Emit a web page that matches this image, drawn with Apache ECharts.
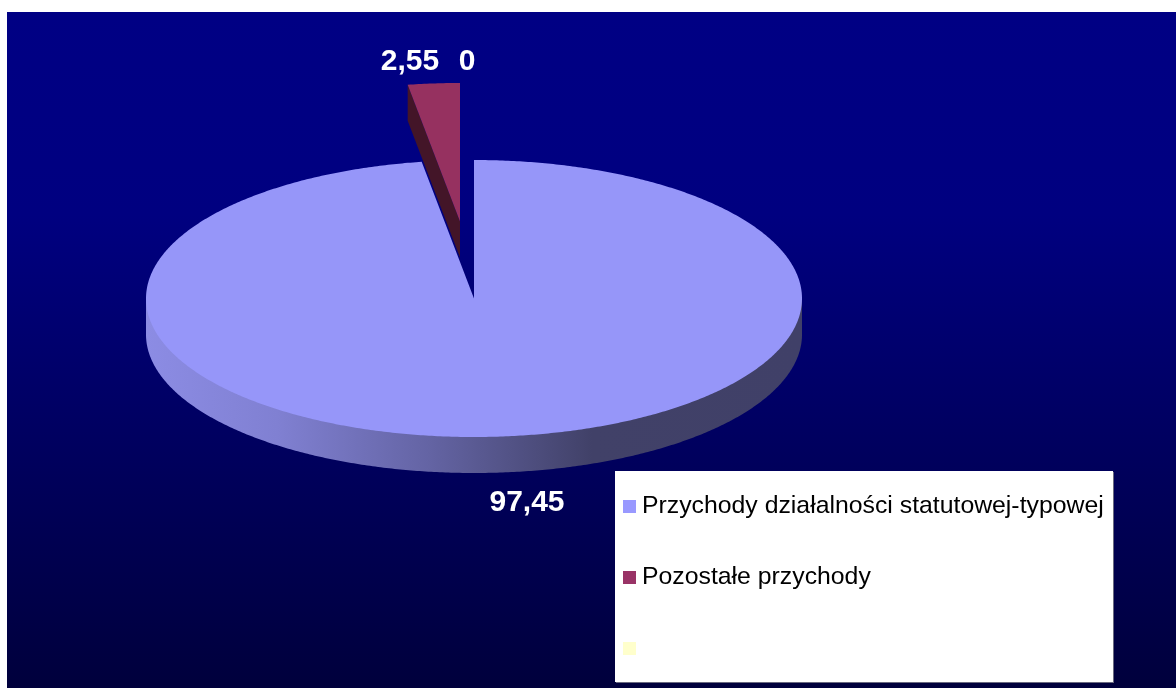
<!DOCTYPE html>
<html><head><meta charset="utf-8">
<style>html,body{margin:0;padding:0;background:#fff}#c{width:1176px;height:688px}</style>
<script src="https://cdn.jsdelivr.net/npm/echarts@6/dist/echarts.min.js"></script>
</head><body><div id="c"></div>
<script>
const categories = ['Przychody działalności statutowej-typowej', 'Pozostałe przychody', '\u00a0'];
const values = [97.45, 2.55, 0];
const valueLabels = ['97,45', '2,55', '0'];
const colors = ['#9696F9', '#963160', '#FFFFCC'];
const legendColors = ['#9999FF', '#993366', '#FFFFCC'];

const PIE = {cx: 474, cy: 298.5, rx: 328, ry: 138.5, depth: 36};
const EXPLODE = [[0, 0], [-14, -77], [0, 0]];
const LABEL_POS = [[527, 503], [410, 62], [467, 62]];
const total = values.reduce((a, b) => a + b, 0);

function pt(frac, ox, oy, dz, k) {
  const t = frac * Math.PI * 2, s = k === undefined ? 1 : k;
  return [PIE.cx + ox + s * PIE.rx * Math.sin(t), PIE.cy + oy - s * PIE.ry * Math.cos(t) + (dz || 0)];
}
function arc(f0, f1, ox, oy, dz, k) {
  const n = Math.max(2, Math.ceil(Math.abs(f1 - f0) * 720)), out = [];
  for (let i = 0; i <= n; i++) out.push(pt(f0 + (f1 - f0) * i / n, ox, oy, dz, k));
  return out;
}
function sliceRender(idx) {
  return function (params, api) {
    const v = api.value(0);
    let start = 0;
    for (let i = 0; i < idx; i++) start += values[i];
    const f0 = start / total, f1 = (start + v) / total;
    const [ox, oy] = EXPLODE[idx];
    const apex = [PIE.cx + ox, PIE.cy + oy];
    const children = [];
    if (v > 0) {
      if (idx === 0) {
        // outer wall: the visible front half of the rim; its upper edge is tucked under the top face
        const a = [pt(0.25, ox, oy, 0)].concat(arc(0.25, 0.75, ox, oy, 0, 0.98), [pt(0.75, ox, oy, 0)]);
        const b = arc(0.75, 0.25, ox, oy, PIE.depth);
        children.push({type: 'polygon', shape: {points: a.concat(b)}, style: {
          fill: new echarts.graphic.LinearGradient(PIE.cx - PIE.rx, 0, PIE.cx + PIE.rx, 0, [
            {offset: 0, color: '#8C8CE4'},
            {offset: 0.2, color: '#8080D2'},
            {offset: 0.43, color: '#6464A4'},
            {offset: 0.68, color: '#414168'},
            {offset: 1, color: '#404068'}
          ], true)
        }});
      } else {
        // cut wall facing the viewer
        const corner = pt(f0, ox, oy, 0);
        children.push({type: 'polygon', shape: {points: [
          corner, [corner[0], corner[1] + PIE.depth], [apex[0], apex[1] + PIE.depth], apex
        ]}, style: {fill: '#431528'}});
      }
      children.push({type: 'polygon', shape: {points: [apex].concat(arc(f0, f1, ox, oy, 0))},
        style: {fill: colors[idx]}});
    }
    children.push({type: 'text', z2: 10, style: {
      x: LABEL_POS[idx][0], y: LABEL_POS[idx][1], text: valueLabels[idx],
      fill: '#fff', font: 'bold 30px "Liberation Sans", Arial, sans-serif',
      align: 'center', verticalAlign: 'middle'
    }});
    return {type: 'group', children};
  };
}

const chart = echarts.init(document.getElementById('c'), null, {renderer: 'canvas'});
chart.setOption({
  animation: false,
  backgroundColor: '#fff',
  graphic: [
    {type: 'rect', z: -10, silent: true, shape: {x: 7, y: 12, width: 1169, height: 676},
      style: {fill: new echarts.graphic.LinearGradient(0, 0, 0, 1, [
        {offset: 0, color: '#000084'}, {offset: 0.3, color: '#000080'}, {offset: 1, color: '#00003C'}
      ])}},
    {type: 'rect', z: 3, silent: true, shape: {x: 616, y: 472, width: 498, height: 211}, style: {fill: '#6a6a80'}},
    {type: 'rect', z: 3, silent: true, shape: {x: 615, y: 471, width: 498, height: 211}, style: {fill: '#fff'}}
  ],
  legend: {
    orient: 'vertical', left: 623, top: 494, padding: 0, itemGap: 46,
    itemWidth: 13, itemHeight: 13, icon: 'rect', selectedMode: false,
    textStyle: {fontFamily: '"Liberation Sans", Arial, sans-serif', fontSize: 24.8, color: '#000', padding: [1, 0, 0, 1]},
    data: categories.map((name, i) => ({name, itemStyle: {color: legendColors[i]}}))
  },
  series: categories.map((name, i) => ({
    type: 'custom', name, coordinateSystem: 'none', z: 2 + i,
    itemStyle: {color: legendColors[i]},
    renderItem: sliceRender(i),
    data: [[values[i]]]
  }))
});
</script></body></html>
